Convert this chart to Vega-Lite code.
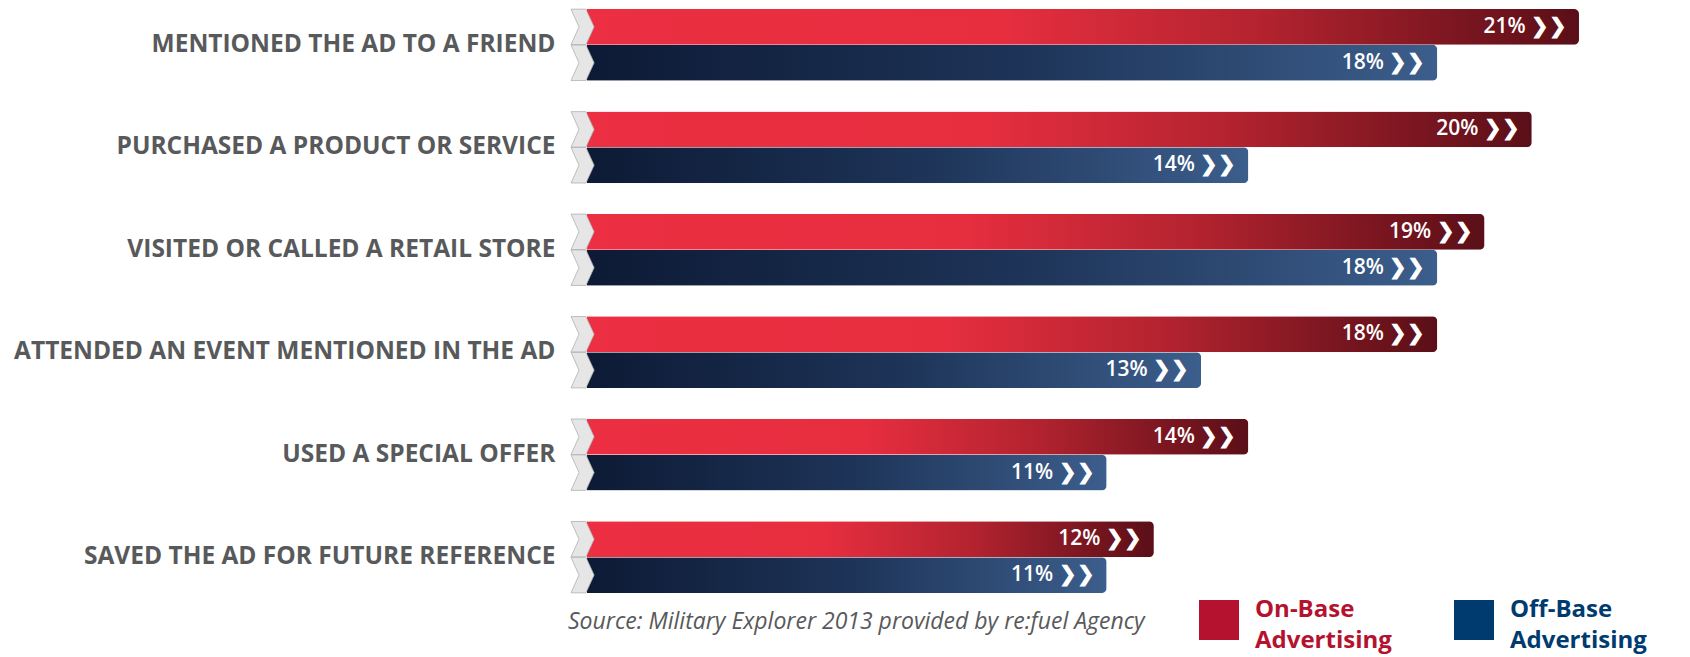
{
  "$schema": "https://vega.github.io/schema/vega-lite/v6.json",
  "autosize": {"type": "none"},
  "width": 1103,
  "height": 584,
  "padding": {"left": 587, "top": 9, "right": 0, "bottom": 64},
  "background": "white",
  "config": {"view": {"stroke": null}},
  "title": {
    "text": "Source: Military Explorer 2013 provided by re:fuel Agency",
    "orient": "bottom",
    "anchor": "start",
    "frame": "group",
    "dx": -19,
    "offset": -42,
    "font": "Open Sans",
    "fontStyle": "italic",
    "fontWeight": "normal",
    "fontSize": 23,
    "color": "#58595b"
  },
  "data": {
    "values": [
      {"activity": "MENTIONED THE AD TO A FRIEND", "series": "On-Base Advertising", "value": 21},
      {"activity": "MENTIONED THE AD TO A FRIEND", "series": "Off-Base Advertising", "value": 18},
      {"activity": "PURCHASED A PRODUCT OR SERVICE", "series": "On-Base Advertising", "value": 20},
      {"activity": "PURCHASED A PRODUCT OR SERVICE", "series": "Off-Base Advertising", "value": 14},
      {"activity": "VISITED OR CALLED A RETAIL STORE", "series": "On-Base Advertising", "value": 19},
      {"activity": "VISITED OR CALLED A RETAIL STORE", "series": "Off-Base Advertising", "value": 18},
      {"activity": "ATTENDED AN EVENT MENTIONED IN THE AD", "series": "On-Base Advertising", "value": 18},
      {"activity": "ATTENDED AN EVENT MENTIONED IN THE AD", "series": "Off-Base Advertising", "value": 13},
      {"activity": "USED A SPECIAL OFFER", "series": "On-Base Advertising", "value": 14},
      {"activity": "USED A SPECIAL OFFER", "series": "Off-Base Advertising", "value": 11},
      {"activity": "SAVED THE AD FOR FUTURE REFERENCE", "series": "On-Base Advertising", "value": 12},
      {"activity": "SAVED THE AD FOR FUTURE REFERENCE", "series": "Off-Base Advertising", "value": 11}
    ]
  },
  "transform": [{"calculate": "datum.value + '% ❯❯'", "as": "label"}],
  "encoding": {
    "y": {
      "field": "activity",
      "type": "nominal",
      "sort": null,
      "scale": {"paddingInner": 0.3, "paddingOuter": 0},
      "axis": {
        "title": null,
        "domain": false,
        "ticks": false,
        "labelPadding": 32,
        "labelFont": "Open Sans",
        "labelFontWeight": "bold",
        "labelFontSize": 24.5,
        "labelColor": "#58595b",
        "labelLimit": 700
      }
    },
    "yOffset": {
      "field": "series",
      "type": "nominal",
      "sort": ["On-Base Advertising", "Off-Base Advertising"],
      "scale": {"paddingInner": 0, "paddingOuter": 0}
    }
  },
  "layer": [
    {
      "mark": {"type": "point", "filled": true, "shape": "square", "size": 4, "opacity": 1},
      "encoding": {
        "x": {"datum": 0, "type": "quantitative", "scale": {"domain": [0, 23.35]}, "axis": null},
        "color": {
          "field": "series",
          "type": "nominal",
          "scale": {"domain": ["On-Base Advertising", "Off-Base Advertising"], "range": ["#b5122f", "#003b6f"]},
          "legend": {
            "title": null,
            "orient": "none",
            "legendX": 612,
            "legendY": 591,
            "direction": "horizontal",
            "columns": 2,
            "columnPadding": 62,
            "symbolType": "square",
            "symbolSize": 1600,
            "symbolStrokeWidth": 0,
            "symbolOpacity": 1,
            "labelExpr": "split(datum.label, ' ')",
            "labelFont": "Open Sans",
            "labelFontSize": 24,
            "labelFontWeight": "bold",
            "labelOffset": 16,
            "labelLimit": 400,
            "encoding": {
              "labels": {
                "fill": {"condition": {"test": "datum.value == 'On-Base Advertising'", "value": "#b5122f"}, "value": "#003b6f"},
                "lineHeight": {"value": 31},
                "dy": {"value": -10}
              }
            }
          }
        }
      }
    },
    {
      "mark": {"type": "bar", "cornerRadiusEnd": 5, "orient": "horizontal"},
      "encoding": {
        "x": {"field": "value", "type": "quantitative", "scale": {"domain": [0, 23.35]}, "axis": null},
        "fill": {
          "condition": {
            "test": "datum.series == 'On-Base Advertising'",
            "value": {
              "gradient": "linear", "x1": 0, "x2": 1, "y1": 0, "y2": 0,
              "stops": [
                {"offset": 0, "color": "#ec2f42"},
                {"offset": 0.42, "color": "#e62e3f"},
                {"offset": 0.68, "color": "#b3232f"},
                {"offset": 0.88, "color": "#7a1620"},
                {"offset": 1, "color": "#5a0f18"}
              ]
            }
          },
          "value": {
            "gradient": "linear", "x1": 0, "x2": 1, "y1": 0, "y2": 0,
            "stops": [
              {"offset": 0, "color": "#0d1a35"},
              {"offset": 0.5, "color": "#1d3357"},
              {"offset": 1, "color": "#3c5e8c"}
            ]
          }
        }
      }
    },
    {
      "mark": {
        "type": "point",
        "filled": true,
        "shape": "M -0.9 -1 L -0.06 -1 L 0.4 0 L -0.06 1 L -0.9 1 L -0.45 0 Z",
        "size": 1260,
        "fill": "#e6e6e6",
        "stroke": "#b0b0b0",
        "strokeWidth": 0.8,
        "opacity": 1
      },
      "encoding": {
        "x": {"datum": 0, "type": "quantitative", "scale": {"domain": [0, 23.35]}, "axis": null}
      }
    },
    {
      "mark": {
        "type": "text",
        "align": "right",
        "baseline": "middle",
        "dx": -12,
        "font": "Open Sans",
        "fontSize": 21,
        "fontWeight": 600,
        "fill": "white"
      },
      "encoding": {
        "x": {"field": "value", "type": "quantitative", "scale": {"domain": [0, 23.35]}, "axis": null},
        "text": {"field": "label"}
      }
    }
  ]
}
